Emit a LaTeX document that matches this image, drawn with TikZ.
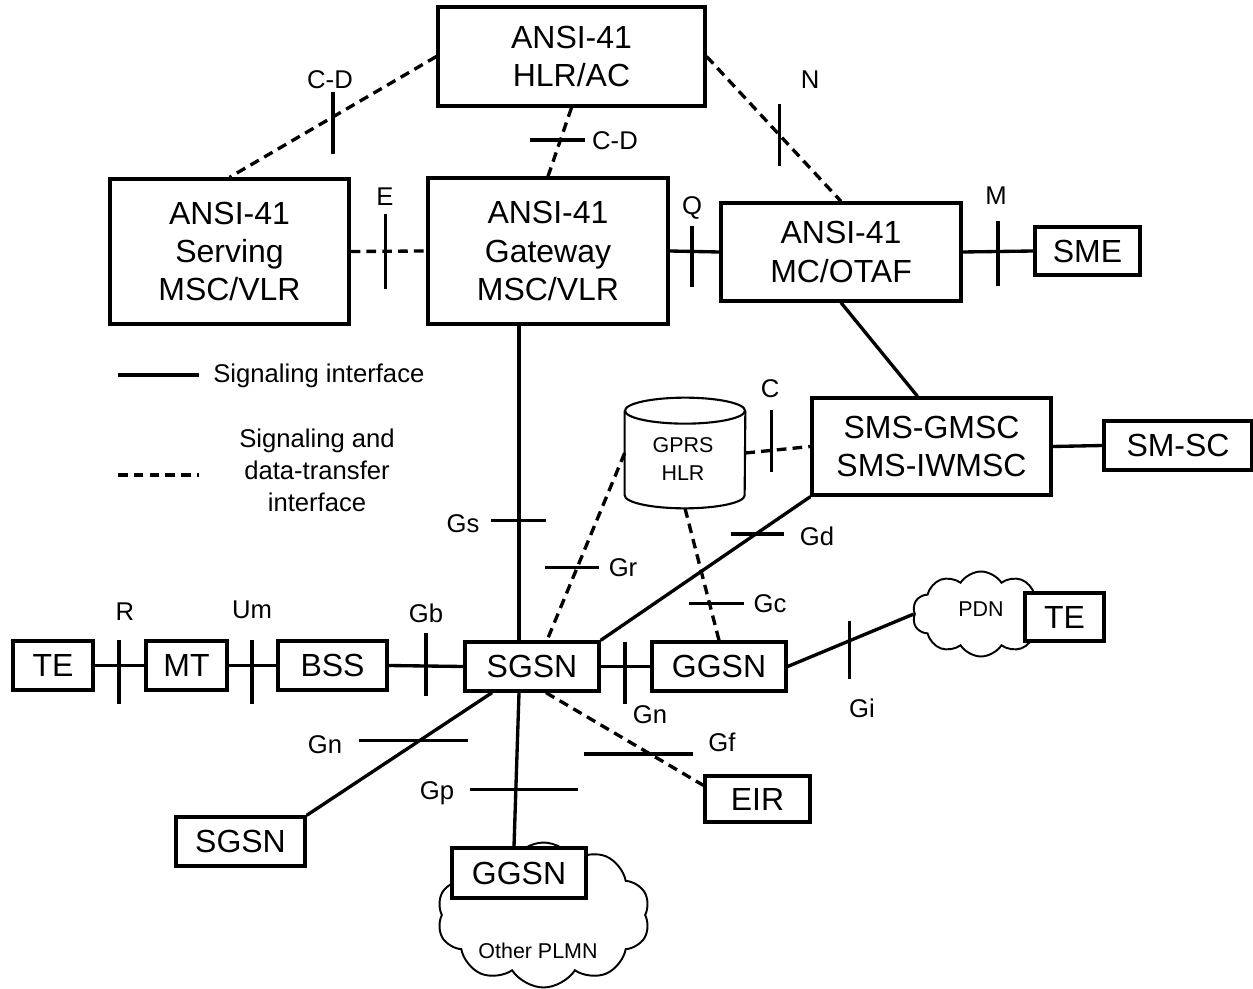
\documentclass[tikz,border=0pt]{standalone}
\usepackage{fontspec}
\setmainfont{Liberation Sans}
\usetikzlibrary{calc,shapes.symbols}
\tikzset{box/.style={draw,line width=1.9pt,fill=white,align=center,font=\fontsize{18.2}{21.7}\selectfont,inner sep=0pt},sig/.style={line width=1.9pt},dat/.style={line width=1.9pt,dash pattern=on 5.5pt off 3.5pt},tick/.style={line width=1.9pt},lab/.style={font=\fontsize{14.6}{18.2}\selectfont,inner sep=0pt,align=center},tiny/.style={font=\fontsize{12.2}{16}\selectfont,inner sep=0pt,align=center},puff/.style={draw,cloud,cloud puffs=10,cloud puff arc=115,cloud ignores aspect,line width=1.1pt,fill=white},can/.style={line width=1.2pt}}
\begin{document}
\begin{tikzpicture}[x=0.02cm,y=-0.02cm]
\useasboundingbox (0,0) rectangle (1253,989);
% ANSI-41 core
\node[box,minimum width=5.34cm,minimum height=1.98cm] (hlrac) at (571.5,56.5) {ANSI-41\\HLR/AC};
\node[box,minimum width=4.78cm,minimum height=2.9cm] (serving) at (229.5,251.5) {ANSI-41\\Serving\\MSC/VLR};
\node[box,minimum width=4.8cm,minimum height=2.92cm] (gateway) at (548,251) {ANSI-41\\Gateway\\MSC/VLR};
\node[box,minimum width=4.8cm,minimum height=1.96cm] (mcotaf) at (841,252) {ANSI-41\\MC/OTAF};
\node[box,minimum width=2.1cm,minimum height=0.96cm] (sme) at (1087.5,251) {SME};
\node[box,minimum width=4.78cm,minimum height=1.94cm] (smsg) at (931.5,446.5) {SMS-GMSC\\SMS-IWMSC};
\node[box,minimum width=2.96cm,minimum height=0.98cm] (smsc) at (1178,445.5) {SM-SC};
% GPRS HLR as a can
\node[minimum width=2.4cm,minimum height=2.2cm,inner sep=0pt] (hlr) at (685,453) {};
\draw[can] ($(hlr.north west)+(0,13)$) -- ($(hlr.south west)+(0,-13)$) arc[start angle=180,end angle=360,x radius=1.2cm,y radius=0.26cm] -- ($(hlr.north east)+(0,13)$);
\draw[can] ($(hlr.north)+(0,13)$) ellipse[x radius=1.2cm,y radius=0.26cm];
\node[tiny] (hlrtxt) at (683,459) {GPRS\\HLR};
% GPRS access chain
\node[box,minimum width=1.6cm,minimum height=0.98cm] (te1) at (53,665.5) {TE};
\node[box,minimum width=1.62cm,minimum height=0.98cm] (mt) at (186.5,665.5) {MT};
\node[box,minimum width=2.18cm,minimum height=0.98cm] (bss) at (332.5,665.5) {BSS};
\node[box,minimum width=2.68cm,minimum height=0.98cm] (sgsn) at (532,666.5) {SGSN};
\node[box,minimum width=2.68cm,minimum height=0.98cm] (ggsn) at (719,666.5) {GGSN};
\node[puff,minimum width=2.74cm,minimum height=1.7cm] (pdn) at (981,614) {};
\node[tiny] (pdntxt) at (981,609) {PDN};
\node[box,minimum width=1.58cm,minimum height=0.96cm] (te2) at (1064.5,617) {TE};
\node[box,minimum width=2.1cm,minimum height=0.92cm] (eir) at (757.5,799) {EIR};
\node[box,minimum width=2.58cm,minimum height=0.98cm] (sgsn2) at (240.5,841.5) {SGSN};
\node[puff,minimum width=4.26cm,minimum height=2.9cm] (plmn) at (543.5,915) {};
\node[tiny] (plmntxt) at (538,951) {Other PLMN};
\node[box,minimum width=2.68cm,minimum height=1.0cm] (ggsn2) at (519,873) {GGSN};
% interfaces
\draw[dat] (hlrac.west) -- coordinate[pos=.5] (tcda) (serving.north);
\draw[tick] ($(tcda)+(0,-25)$) -- ($(tcda)+(0,37)$);
\node[lab] (lcda) at (330,80) {C-D};
\draw[dat] (hlrac.south) -- coordinate[pos=.47] (tcdb) (gateway.north);
\draw[tick] ($(tcdb)+(-30,0)$) -- ($(tcdb)+(25,0)$);
\node[lab] (lcdb) at (615,141) {C-D};
\draw[dat] (hlrac.east) -- coordinate[pos=.54] (tn) (mcotaf.north);
\draw[tick] ($(tn)+(0,-31)$) -- ($(tn)+(0,31)$);
\node[lab] (ln) at (810,80) {N};
\draw[dat] (serving.east) -- coordinate[pos=.46] (te) (gateway.west);
\draw[tick] ($(te)+(0,-37)$) -- ($(te)+(0,38)$);
\node[lab] (le) at (385,197) {E};
\draw[sig] (gateway.east) -- coordinate[pos=.45] (tq) (mcotaf.west);
\draw[tick] ($(tq)+(0,-25)$) -- ($(tq)+(0,36)$);
\node[lab] (lq) at (692,208) {Q};
\draw[sig] (mcotaf.east) -- coordinate[pos=.5] (tm) (sme.west);
\draw[tick] ($(tm)+(0,-30)$) -- ($(tm)+(0,35)$);
\node[lab] (lm) at (996,196) {M};
\draw[sig] (mcotaf.south) -- ($(smsg.north)+(-14,0)$);
\draw[sig] (smsg.east) -- (smsc.west);
\draw[dat] (hlr.east) -- coordinate[pos=.4] (tc) (smsg.west);
\draw[tick] ($(tc)+(0,-40)$) -- ($(tc)+(0,22)$);
\node[lab] (lc) at (770,389) {C};
\coordinate (gws) at ($(gateway.south)+(-29,0)$);
\draw[sig] (gws) -- coordinate[pos=.62] (tgs) (gws |- sgsn.north);
\draw[tick] ($(tgs)+(-28,0)$) -- ($(tgs)+(27,0)$);
\node[lab] (lgs) at (463,524) {Gs};
\draw[dat] (hlr.west) -- coordinate[pos=.61] (tgr) ($(sgsn.north)+(15,0)$);
\draw[tick] ($(tgr)+(-32,0)$) -- ($(tgr)+(22,0)$);
\node[lab] (lgr) at (623,568) {Gr};
\draw[sig] (smsg.south west) -- coordinate[pos=.26] (tgd) (sgsn.north east);
\draw[tick] ($(tgd)+(-25,0)$) -- ($(tgd)+(28,0)$);
\node[lab] (lgd) at (817,536) {Gd};
\draw[dat] (hlr.south) -- coordinate[pos=.72] (tgc) (ggsn.north);
\draw[tick] ($(tgc)+(-20,0)$) -- ($(tgc)+(35,0)$);
\node[lab] (lgc) at (770,604) {Gc};
\draw[sig] (sgsn.east) -- coordinate[pos=.49] (tgn) (ggsn.west);
\draw[tick] ($(tgn)+(0,-25)$) -- ($(tgn)+(0,37)$);
\node[lab] (lgn) at (650,715) {Gn};
\draw[sig] (ggsn.east) -- coordinate[pos=.49] (tgi) (pdn.west);
\draw[tick] ($(tgi)+(0,-20)$) -- ($(tgi)+(0,38)$);
\node[lab] (lgi) at (862,708) {Gi};
\draw[sig] (te1.east) -- coordinate[pos=.49] (tr) (mt.west);
\draw[tick] ($(tr)+(0,-26)$) -- ($(tr)+(0,38)$);
\node[lab] (lr) at (125,612) {R};
\draw[sig] (mt.east) -- coordinate[pos=.49] (tum) (bss.west);
\draw[tick] ($(tum)+(0,-26)$) -- ($(tum)+(0,38)$);
\node[lab] (lum) at (252,610) {Um};
\draw[sig] (bss.east) -- coordinate[pos=.5] (tgb) (sgsn.west);
\draw[tick] ($(tgb)+(0,-33)$) -- ($(tgb)+(0,30)$);
\node[lab] (lgb) at (426,613) {Gb};
\draw[sig] ($(sgsn.south)+(-40,0)$) -- coordinate[pos=.39] (tgn2) (sgsn2.north east);
\draw[tick] ($(tgn2)+(-61,0)$) -- ($(tgn2)+(48,0)$);
\node[lab] (lgn2) at (325,745) {Gn};
\draw[sig] ($(sgsn.south)+(-13,0)$) -- coordinate[pos=.63] (tgp) ($(ggsn2.north)+(-5,0)$);
\draw[tick] ($(tgp)+(-46,0)$) -- ($(tgp)+(62,0)$);
\node[lab] (lgp) at (437,793) {Gp};
\draw[dat] ($(sgsn.south)+(14,0)$) -- coordinate[pos=.66] (tgf) ($(eir.north west)+(0,11)$);
\draw[tick] ($(tgf)+(-66,0)$) -- ($(tgf)+(43,0)$);
\node[lab] (lgf) at (722,742) {Gf};
% legend
\coordinate (lsa) at (118,375);
\coordinate (lsb) at (199,375);
\draw[sig] (lsa) -- (lsb);
\node[lab,anchor=west] (lst) at (213,376) {Signaling interface};
\coordinate (lda) at (118,475);
\coordinate (ldb) at (199,475);
\draw[dat] (lda) -- (ldb);
\node[lab] (ldt) at (317,470) {Signaling and\\data-transfer\\interface};
\end{tikzpicture}
\end{document}
